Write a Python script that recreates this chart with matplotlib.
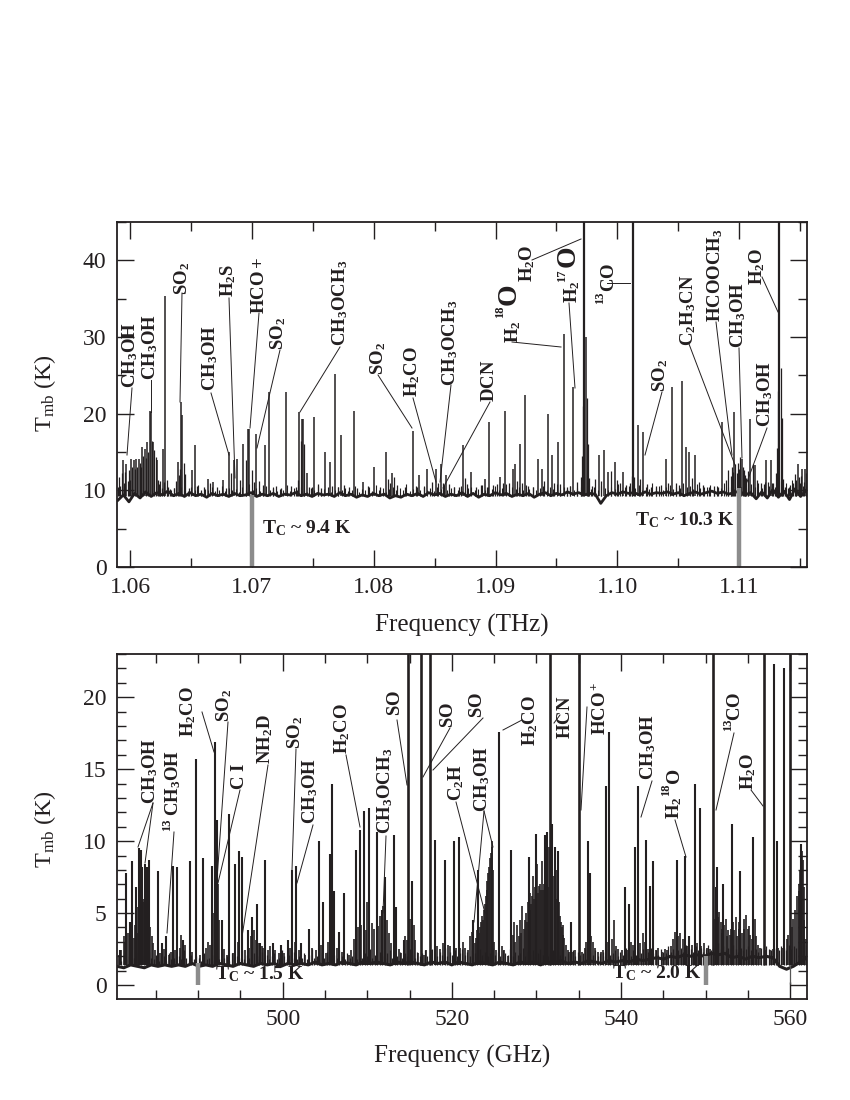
import numpy as np
import matplotlib
matplotlib.use('Agg')
import matplotlib.pyplot as plt
from matplotlib.lines import Line2D
from matplotlib.ticker import MultipleLocator, FormatStrFormatter

plt.rcParams['font.family'] = ['Liberation Serif', 'DejaVu Serif']
plt.rcParams['mathtext.fontset'] = 'custom'
plt.rcParams['mathtext.rm'] = 'Liberation Serif'
plt.rcParams['mathtext.it'] = 'Liberation Serif:italic'
plt.rcParams['mathtext.bf'] = 'Liberation Serif:bold'

INK = '#231f20'

# upper band, THz / K
top_base_T = [8.7, 9.4, 8.5, 9.6, 9.0, 9.8, 9.2, 9.7, 9.4, 9.9, 9.3, 9.6, 9.2, 9.7, 9.3, 9.5, 9.1, 9.6, 9.3, 9.5,
              9.2, 9.6, 9.3, 9.4, 9.7, 9.2, 9.5, 9.3, 9.6, 9.2, 9.5, 9.4, 9.7, 9.3, 9.5, 9.2, 9.6, 9.4, 9.5, 9.2,
              9.7, 9.3, 9.5, 9.1, 9.4, 9.2, 9.6, 9.3, 9.5, 9.0, 9.3, 9.1, 9.5, 9.3, 9.6, 9.2, 9.7, 9.4, 9.6, 9.2,
              9.5, 9.3, 9.7, 9.2, 9.6, 9.1, 9.5, 9.3, 9.7, 9.4, 9.6, 9.2, 9.5, 9.3, 9.6, 9.1, 9.5, 9.7, 9.3, 9.6,
              9.4, 9.8, 9.5, 9.7, 9.4, 9.6, 9.5, 8.3, 9.3, 9.7, 9.5, 9.8, 9.6, 9.7, 9.4, 9.8, 9.5, 9.7, 9.6, 9.8,
              9.5, 9.7, 9.3, 9.6, 9.8, 9.5, 9.7, 9.9, 9.6, 9.8, 9.5, 9.7, 9.9, 9.4, 9.7, 8.9, 9.8, 9.0, 10.1, 9.1,
              9.9, 8.8, 10.2, 9.2, 10.0]

# short noise spikes sitting on the continuum, evenly spaced channels
top_low_T = [10.2, 9.9, 10.6, 10.0, 10.3, 9.8, 10.5, 10.1, 9.9, 10.4, 10.0, 10.7, 9.8, 10.2, 10.0, 10.4, 9.9, 10.1,
             10.6, 9.9, 10.3, 10.0, 10.2, 9.8, 10.5, 10.1, 10.8, 10.0, 10.3, 9.9, 10.2, 10.6, 10.0, 10.4, 9.9, 10.2,
             10.1, 10.7, 9.9, 10.3, 10.0, 10.5, 10.1, 9.8, 10.3, 10.0, 10.6, 9.9, 10.2, 10.4, 9.8, 10.1, 10.5, 10.0,
             10.3, 9.9, 10.1, 10.6, 9.8, 10.2, 10.0, 10.4, 9.9, 10.7, 10.1, 10.3, 9.8, 10.2, 10.5, 10.0, 10.3, 10.1,
             10.8, 9.9, 10.2, 10.4, 10.0, 10.6, 10.1, 10.3, 9.9, 10.5, 10.2, 10.7, 10.0, 10.3, 10.4, 10.1, 10.6, 9.9,
             10.3, 10.5, 10.1, 10.2, 10.7, 10.0, 10.4, 10.2, 10.6, 10.0, 10.3, 10.8, 10.1, 10.4, 10.2, 10.5, 10.1, 10.7,
             10.2, 10.4, 10.0, 10.3, 10.6, 10.1, 10.5, 10.2, 10.8, 10.0, 10.4, 10.2, 10.6, 10.1, 10.3, 10.5, 10.0, 10.7,
             10.2, 10.4, 10.1, 10.6, 10.3, 10.0, 10.5, 10.2, 10.8, 10.1, 10.4, 10.6, 10.2, 10.3, 10.7, 10.1, 10.5, 10.2,
             10.9, 10.3, 10.6, 10.1, 10.4, 10.7, 10.2, 10.5, 10.3, 10.9, 10.4, 10.6, 10.2, 10.8, 10.3, 10.5, 10.4, 10.7,
             10.2, 10.6, 10.3, 10.9, 10.4, 10.5, 10.2, 10.7, 10.4, 10.6, 10.3, 10.8, 10.5, 10.9, 10.3, 11.1, 10.6, 10.9,
             10.4, 11.2, 10.7, 11.0, 10.5, 11.3, 10.8, 11.1, 10.6, 11.4]

top_f = [1.0594, 1.0597, 1.0601, 1.0603, 1.0605, 1.0607, 1.0610, 1.0612, 1.0614, 1.0616, 1.0617, 1.0619, 1.0622,
         1.0627, 1.0629, 1.0639, 1.0642, 1.0643, 1.0651, 1.0653, 1.0664, 1.0668, 1.0676, 1.0681, 1.0685, 1.0688,
         1.0693, 1.0697, 1.0698, 1.0703, 1.0711, 1.0714, 1.0728, 1.0739, 1.0741, 1.0742, 1.0745, 1.0751, 1.0760,
         1.0764, 1.0768, 1.0773, 1.0784, 1.0791, 1.0800, 1.0810, 1.0815, 1.0832, 1.0837, 1.0844, 1.0851, 1.0855,
         1.0859, 1.0873, 1.0880, 1.0891, 1.0895, 1.0904, 1.0908, 1.0914, 1.0916, 1.0920, 1.0924, 1.0935, 1.0938,
         1.0943, 1.0946, 1.0951, 1.0956, 1.0964, 1.0974, 1.0985, 1.0989, 1.0992, 1.0998, 1.1005, 1.1017, 1.1021,
         1.1040, 1.1045, 1.1053, 1.1056, 1.1059, 1.1064, 1.1086, 1.1096, 1.1102, 1.1109, 1.1113, 1.1122, 1.1126,
         1.1148, 1.1152, 1.1154]
top_T = [13.9, 13.5, 14.1, 13.9, 14.1, 14.1, 15.7, 15.4, 16.3, 20.4, 20.2, 16.3, 13.9, 15.4, 35.4, 13.7, 21.5,
         19.8, 12.6, 15.9, 11.5, 11.1, 11.3, 15.0, 13.9, 14.1, 16.1, 18.0, 18.0, 17.4, 15.9, 22.8, 22.8, 20.2,
         19.3, 19.3, 12.2, 19.6, 15.0, 13.7, 25.2, 17.2, 20.4, 11.1, 13.0, 15.0, 12.2, 17.8, 12.0, 12.8, 12.8,
         13.5, 12.0, 15.9, 12.4, 11.5, 18.9, 11.7, 20.4, 12.8, 13.5, 16.1, 22.4, 14.1, 12.8, 19.9, 14.6, 16.3,
         30.4, 23.5, 30.0, 14.6, 15.2, 12.4, 13.7, 12.4, 18.5, 17.6, 14.1, 23.5, 24.3, 15.7, 15.0, 14.6, 18.9,
         20.2, 14.1, 19.3, 13.3, 13.9, 13.9, 13.5, 12.8, 12.8]

top_grass_f = [1.0590, 1.0591, 1.0592, 1.0593, 1.0595, 1.0596, 1.0598, 1.0599, 1.0600, 1.0602, 1.0604, 1.0606,
               1.0608, 1.0609, 1.0611, 1.0613, 1.0615, 1.0618, 1.0620, 1.0621, 1.0623, 1.0624, 1.0625, 1.0626,
               1.0628, 1.0630, 1.0631, 1.0633, 1.0636, 1.0638, 1.0640, 1.0641, 1.0644, 1.0645, 1.0648, 1.0655,
               1.0658, 1.0661, 1.0666, 1.0671, 1.0679, 1.0683, 1.0690, 1.0695, 1.0700, 1.0702, 1.0706, 1.0709,
               1.0717, 1.0720, 1.0724, 1.0732, 1.0736, 1.0738, 1.0740, 1.0743, 1.0747, 1.0749, 1.0754, 1.0757,
               1.0766, 1.0771, 1.0776, 1.0780, 1.0786, 1.0795, 1.0805, 1.0812, 1.0813, 1.0817, 1.0819, 1.0826,
               1.0835, 1.0841, 1.0848, 1.0853, 1.0857, 1.0862, 1.0866, 1.0870, 1.0875, 1.0877, 1.0884, 1.0888,
               1.0893, 1.0898, 1.0901, 1.0906, 1.0911, 1.0918, 1.0922, 1.0927, 1.0931, 1.0940, 1.0948, 1.0953,
               1.0959, 1.0961, 1.0967, 1.0970, 1.0971, 1.0972, 1.0975, 1.0976, 1.0977, 1.0979, 1.0982, 1.0987,
               1.0995, 1.1000, 1.1002, 1.1007, 1.1010, 1.1012, 1.1014, 1.1019, 1.1024, 1.1028, 1.1032, 1.1036,
               1.1042, 1.1048, 1.1051, 1.1061, 1.1067, 1.1070, 1.1075, 1.1079, 1.1083, 1.1089, 1.1091, 1.1093,
               1.1094, 1.1095, 1.1097, 1.1098, 1.1099, 1.1100, 1.1101, 1.1103, 1.1104, 1.1105, 1.1106, 1.1107,
               1.1111, 1.1115, 1.1118, 1.1120, 1.1124, 1.1128, 1.1130, 1.1131, 1.1132, 1.1134, 1.1135, 1.1136,
               1.1138, 1.1140, 1.1142, 1.1144, 1.1146, 1.1147, 1.1149, 1.1150, 1.1151, 1.1153, 1.1155]
top_grass_T = [10.5, 11.8, 10.6, 12.2, 10.9, 12.4, 11.2, 12.7, 11.3, 13.0, 12.8, 13.1, 13.6, 13.0, 14.5, 14.2,
               15.0, 16.5, 15.2, 14.3, 11.4, 10.8, 11.2, 10.3, 11.1, 11.3, 10.4, 10.2, 10.3, 11.2, 12.0, 12.8,
               13.6, 12.1, 10.3, 10.6, 10.1, 10.4, 10.9, 10.5, 10.3, 12.2, 11.4, 14.0, 12.6, 11.1, 11.2, 10.7,
               10.3, 10.6, 10.3, 10.6, 10.4, 11.3, 16.4, 16.0, 10.5, 10.4, 10.8, 10.3, 10.6, 10.4, 10.7, 10.5,
               10.3, 10.6, 10.4, 11.5, 10.9, 11.8, 10.7, 10.5, 10.6, 10.4, 11.1, 10.9, 11.0, 10.8, 10.4, 10.5,
               11.6, 10.8, 10.5, 10.7, 10.5, 10.7, 10.8, 10.9, 11.0, 11.2, 10.9, 10.6, 10.5, 11.2, 10.9, 10.8,
               10.5, 10.6, 11.1, 11.8, 14.5, 21.0, 22.0, 16.0, 11.6, 10.6, 11.5, 11.2, 12.5, 11.3, 11.0, 10.7,
               10.9, 11.9, 11.7, 11.5, 10.8, 10.5, 10.6, 10.7, 10.9, 11.0, 10.7, 11.6, 11.1, 10.7, 10.5, 10.6,
               10.5, 11.3, 12.6, 11.9, 13.0, 12.4, 13.4, 12.3, 13.6, 12.8, 14.4, 13.1, 12.6, 12.0, 11.6, 12.5,
               13.4, 11.3, 10.9, 10.8, 11.1, 11.0, 12.2, 15.5, 23.0, 26.0, 19.5, 11.5, 10.4, 10.3,
               10.7, 11.0, 12.1, 11.3, 11.8, 11.0, 11.9, 11.1, 12.3]

top_strong_f = [1.0973, 1.1013, 1.1133]
top_strong_T = [60.0, 60.0, 60.0]

# lower band, GHz / K
bot_base_T = [1.3, 1.2, 1.4, 1.3, 1.2, 1.4, 1.3, 1.4, 1.3, 1.4, 1.3, 1.5, 1.3, 1.4, 1.3, 1.5, 1.4, 1.3, 1.5, 1.4,
              1.3, 1.5, 1.4, 1.5, 1.3, 1.5, 1.4, 1.5, 1.4, 1.6, 1.4, 1.5, 1.4, 1.6, 1.5, 1.4, 1.6, 1.5, 1.6, 1.5,
              1.4, 1.6, 1.5, 1.6, 1.5, 1.4, 1.6, 1.5, 1.6, 1.4, 1.6, 1.5, 1.4, 1.6, 1.5, 1.4, 1.6, 1.5, 1.4, 1.6,
              1.5, 1.6, 1.4, 1.6, 1.5, 1.7, 1.5, 1.6, 1.5, 1.7, 1.6, 1.5, 1.7, 1.6, 1.7, 1.6, 1.8, 1.7, 1.8, 1.9,
              1.8, 2.0, 1.9, 2.1, 2.0, 2.1, 2.0, 2.2, 2.1, 2.2, 1.9, 2.0, 1.8, 2.0, 1.9, 2.0, 1.9, 1.3, 1.1, 1.3,
              1.6, 1.9]

bot_low_T = [1.9, 1.7, 2.1, 1.8, 2.0, 1.7, 1.9, 2.2, 1.8, 1.7, 2.0, 1.8, 2.3, 1.9, 1.8, 2.1, 1.7, 1.9, 2.0, 1.7,
             2.2, 1.8, 1.9, 1.7, 2.0, 1.8, 2.4, 1.9, 1.7, 2.1, 1.8, 2.0, 1.9, 1.7, 2.2, 1.8, 1.9, 2.1, 1.7, 2.0,
             1.8, 2.3, 1.9, 2.0, 1.7, 2.2, 1.8, 2.0, 1.9, 2.4, 1.8, 2.1, 1.9, 1.7, 2.2, 2.0, 1.8, 2.3, 1.9, 2.1,
             1.8, 2.0, 2.2, 1.8, 1.9, 2.4, 2.0, 1.8, 2.1, 1.9, 2.3, 1.8, 2.0, 1.9, 2.2, 1.8, 2.1, 2.5, 1.9, 2.0,
             1.8, 2.2, 1.9, 2.3, 2.0, 1.8, 2.1, 1.9, 2.4, 2.0, 1.8, 2.2, 1.9, 2.0, 2.3, 1.8, 2.1, 1.9, 2.2, 2.0,
             2.5, 1.9, 2.1, 1.8, 2.3, 2.0, 1.9, 2.2, 2.4, 1.9, 2.1, 2.0, 2.3, 1.9, 2.2, 2.0, 2.5, 2.1, 1.9, 2.3,
             2.0, 2.2, 2.4, 2.0, 2.1, 2.5, 2.2, 2.0, 2.3, 2.1, 2.6, 2.0, 2.3, 2.1, 2.4, 2.0, 2.2, 2.5, 2.1, 2.3,
             2.0, 2.4, 2.2, 2.0, 2.5, 2.1, 2.3, 2.0, 2.2, 2.6, 2.1, 2.3, 2.0, 2.4, 2.2, 2.1, 2.5, 2.0, 2.3, 2.1,
             2.2, 2.6, 2.0, 2.3, 2.1, 2.4, 2.0, 2.2, 2.5, 2.1, 2.3, 2.0, 2.2, 2.4, 2.0, 2.3, 2.1, 2.5, 2.0, 2.2,
             2.1, 2.4, 2.0, 2.3, 2.1, 2.2, 2.5, 2.0, 2.3, 2.1, 2.4, 2.0, 2.2, 2.3, 2.0, 2.5, 2.1, 2.2, 2.4, 2.0,
             2.3, 2.1, 2.6, 2.2, 2.0, 2.4, 2.1, 2.3, 2.2, 2.5, 2.1, 2.3, 2.6, 2.2, 2.4, 2.1, 2.5, 2.3, 2.2, 2.7,
             2.3, 2.5, 2.2, 2.4, 2.6, 2.3, 2.8, 2.4, 2.5, 2.3, 2.7, 2.4, 2.6, 2.3, 2.5, 2.8, 2.4, 2.6, 2.5, 2.9,
             2.5, 2.7, 2.4, 2.6, 2.5, 2.8, 2.5, 2.3, 2.6, 2.4, 2.5, 2.7, 2.4, 2.6, 2.5, 2.3, 2.6, 2.4, 2.7, 2.5,
             2.4, 2.6, 2.5, 2.4, 2.7, 2.6, 2.4, 2.8, 2.5, 2.7, 2.6, 3.0, 2.7, 3.2, 2.8]

bot_f = [480.8, 481.5, 481.9, 482.2, 482.6, 483.0, 483.2, 483.4, 483.7, 483.9, 484.2, 485.3, 485.7, 486.2, 487.0,
         487.5, 488.2, 489.0, 489.8, 490.6, 491.6, 492.0, 492.2, 492.8, 493.7, 494.4, 494.8, 495.2, 495.9, 496.4,
         497.0, 497.3, 497.9, 498.9, 499.8, 500.6, 501.1, 501.6, 502.2, 503.1, 504.3, 504.8, 505.6, 505.8, 506.1,
         506.7, 507.3, 508.7, 509.1, 509.6, 510.2, 511.1, 511.7, 512.1, 513.1, 513.4, 514.3, 515.3, 518.0, 519.2,
         520.2, 520.8, 522.5, 523.1, 525.6, 527.0, 529.1, 529.9, 531.0, 531.3, 531.8, 532.2, 532.6, 534.1, 536.1,
         536.3, 538.2, 538.6, 540.5, 540.9, 541.7, 542.0, 543.0, 543.4, 543.8, 546.6, 547.6, 548.1, 548.8, 549.3,
         551.2, 551.4, 552.1, 553.1, 554.1, 555.6, 558.1, 558.4, 559.3, 561.3]
bot_T = [2.4, 7.8, 4.4, 8.6, 6.8, 9.5, 9.4, 8.2, 8.4, 8.2, 8.7, 7.9, 2.9, 3.4, 8.3, 8.2, 3.1, 8.6, 15.7, 8.8, 8.3,
         16.9, 11.5, 4.5, 11.9, 8.4, 9.3, 8.9, 3.8, 4.7, 5.6, 2.9, 8.7, 2.9, 2.8, 3.1, 8.0, 8.3, 2.9, 3.9, 10.0,
         5.8, 9.1, 14.0, 6.5, 3.7, 6.4, 9.4, 10.8, 12.1, 12.3, 10.6, 5.2, 7.5, 10.4, 5.4, 3.1, 7.2, 10.1, 8.7,
         10.0, 10.3, 4.5, 8.0, 17.6, 9.4, 8.9, 10.5, 10.4, 10.6, 11.2, 9.6, 9.3, 4.4, 10.0, 7.8, 13.8, 17.6, 6.8,
         5.6, 9.6, 13.8, 10.1, 6.9, 8.6, 8.7, 9.0, 3.4, 14.0, 12.3, 6.8, 8.2, 7.0, 11.2, 7.9, 10.3, 22.3, 10.0,
         22.0, 9.8]

bot_grass_f = [480.6, 480.9, 481.2, 481.4, 481.7, 482.0, 482.1, 482.4, 482.5, 482.8, 482.9, 483.1, 483.3, 483.5,
               483.6, 483.8, 484.0, 484.1, 484.3, 484.5, 484.7, 484.9, 485.1, 485.5, 486.0, 486.5, 486.8, 487.2,
               487.8, 488.0, 488.5, 489.3, 490.2, 490.9, 491.2, 491.4, 491.8, 492.4, 492.5, 493.0, 493.4, 494.1,
               494.7, 495.5, 496.0, 496.2, 496.6, 496.8, 497.1, 497.5, 497.7, 498.2, 498.5, 499.1, 499.5, 500.1,
               500.9, 501.4, 501.9, 502.6, 503.5, 503.9, 504.5, 505.1, 505.4, 506.4, 507.0, 507.8, 508.1, 508.4,
               508.9, 509.3, 509.8, 510.0, 510.5, 510.8, 511.3, 511.5, 511.9, 512.3, 512.6, 512.8, 513.7, 514.0,
               514.5, 514.7, 515.0, 515.5, 515.7, 516.0, 516.7, 517.0, 517.7, 518.3, 518.6, 518.9, 519.5, 519.8,
               520.5, 521.0, 521.3, 521.6, 521.9, 522.2, 522.4, 522.7, 522.9, 523.0, 523.2, 523.3, 523.5, 523.6,
               523.7, 523.8, 523.9, 524.0, 524.1, 524.2, 524.3, 524.4, 524.5, 524.6, 524.7, 524.8, 524.9, 525.0,
               525.2, 525.9, 526.2, 526.6, 527.2, 527.4, 527.5, 527.7, 527.9, 528.0, 528.2, 528.3, 528.5, 528.6,
               528.8, 528.9, 529.0, 529.2, 529.3, 529.4, 529.5, 529.6, 529.7, 529.8, 530.0, 530.1, 530.2, 530.3,
               530.4, 530.5, 530.7, 530.8, 530.9, 531.1, 531.2, 531.4, 531.5, 531.7, 531.9, 532.0, 532.3, 532.4,
               532.5, 532.7, 532.8, 532.9, 533.0, 533.1, 533.2, 533.3, 533.5, 533.7, 533.9, 534.3, 534.6, 535.4,
               535.7, 535.9, 536.5, 536.7, 536.9, 537.3, 537.6, 537.9, 538.5, 538.9, 539.2, 539.4, 539.7, 540.1,
               540.7, 541.2, 541.4, 542.3, 542.6, 542.8, 543.2, 544.1, 544.4, 544.8, 545.2, 545.5, 545.9, 546.2,
               546.4, 546.8, 547.0, 547.3, 547.9, 548.4, 549.0, 549.5, 549.8, 550.2, 550.5, 551.1, 551.3, 551.5,
               551.6, 551.8, 551.9, 552.0, 552.2, 552.4, 552.5, 552.7, 552.9, 553.0, 553.3, 553.4, 553.6, 553.7,
               553.9, 554.0, 554.3, 554.5, 554.6, 554.8, 555.0, 555.1, 555.3, 555.5, 555.8, 556.0, 556.2, 556.5,
               557.2, 557.6, 558.0, 558.6, 559.0, 559.6, 559.8, 560.2, 560.4, 560.6, 560.8, 561.0, 561.1, 561.2,
               561.4, 561.5, 561.6, 561.7, 561.9]
bot_grass_T = [2.1, 2.4, 3.4, 3.0, 3.6, 2.8, 3.8, 3.3, 4.2, 3.6, 5.4, 4.8, 4.2, 5.8, 6.0, 5.2, 4.6, 5.4, 4.0, 3.4,
               2.9, 2.4, 2.0, 2.2, 2.5, 2.1, 2.3, 2.4, 2.6, 3.5, 2.8, 2.3, 2.1, 2.6, 3.0, 2.8, 5.0, 7.0, 4.5, 2.5,
               2.1, 2.2, 3.0, 2.4, 2.6, 3.4, 3.8, 3.1, 2.9, 2.7, 2.6, 2.4, 2.7, 2.4, 2.2, 2.2, 2.6, 3.0, 2.4, 2.1,
               2.6, 2.4, 2.8, 2.2, 3.0, 2.6, 2.3, 2.1, 2.4, 3.2, 4.0, 4.2, 3.8, 5.8, 4.3, 3.9, 4.1, 4.8, 5.5, 4.5,
               3.6, 2.9, 2.5, 2.2, 3.4, 3.1, 4.6, 4.2, 3.1, 2.2, 2.1, 2.4, 2.4, 2.7, 2.5, 2.9, 2.8, 2.7, 2.6, 2.6,
               3.0, 2.6, 2.4, 3.4, 3.7, 2.9, 3.3, 3.8, 3.6, 4.0, 4.4, 4.8, 4.5, 5.2, 5.6, 6.2, 6.6, 7.2, 7.8, 8.2,
               8.8, 9.2, 10.0, 9.6, 8.0, 3.0, 2.4, 2.7, 2.4, 2.0, 3.5, 4.4, 3.0, 4.2, 3.4, 4.5, 3.6, 5.5, 3.9, 4.5,
               5.0, 4.4, 5.8, 5.2, 6.4, 5.6, 6.2, 7.6, 6.0, 6.8, 6.2, 8.4, 6.4, 6.9, 7.0, 6.6, 8.6, 6.6, 7.0, 6.4,
               9.2, 6.8, 9.6, 7.0, 6.4, 7.6, 6.0, 8.0, 5.6, 5.8, 4.8, 4.4, 4.0, 4.2, 3.5, 3.3, 2.8, 2.4, 2.3, 2.3,
               2.4, 2.3, 2.6, 3.0, 3.4, 3.0, 2.6, 2.3, 2.3, 2.4, 3.0, 3.2, 4.5, 2.7, 2.5, 2.4, 2.4, 3.0, 2.8, 2.9,
               3.6, 3.0, 2.5, 2.4, 2.6, 2.3, 2.5, 2.4, 2.7, 3.2, 3.7, 3.4, 3.6, 3.2, 2.7, 2.8, 2.9, 2.7, 2.9, 2.6,
               2.5, 4.6, 5.0, 4.7, 5.1, 4.4, 3.9, 3.6, 4.2, 4.6, 3.4, 3.8, 3.5, 3.9, 4.4, 3.8, 4.7, 3.4, 3.9, 4.4,
               3.6, 4.6, 3.9, 4.9, 3.9, 4.1, 3.5, 3.2, 4.6, 3.4, 2.8, 2.6, 2.4, 2.4, 2.5, 2.6, 2.6, 3.2, 3.5, 4.0,
               4.6, 5.2, 6.2, 7.0, 6.5, 8.0, 9.3, 8.7, 6.8, 4.5, 3.2]

bot_strong_f = [514.8, 516.4, 517.4, 531.6, 535.0, 550.9, 556.9, 560.0]
bot_strong_T = [30.0, 30.0, 30.0, 30.0, 30.0, 30.0, 30.0, 30.0]

# (text, x px, y px), then leaders (x0, y0, x1, y1) in figure pixels
top_labels = [
    (r'$\mathbf{CH_3OH}$', 130, 355), (r'$\mathbf{CH_3OH}$', 150, 347), (r'$\mathbf{SO_2}$', 182, 278),
    (r'$\mathbf{H_2S}$', 228, 280), (r'$\mathbf{HCO+}$', 259, 285), (r'$\mathbf{SO_2}$', 278, 333),
    (r'$\mathbf{CH_3OH}$', 210, 358), (r'$\mathbf{CH_3OCH_3}$', 340, 303), (r'$\mathbf{SO_2}$', 378, 358),
    (r'$\mathbf{H_2CO}$', 412, 372), (r'$\mathbf{CH_3OCH_3}$', 450, 343), (r'$\mathbf{DCN}$', 490, 381),
    (r'$\mathbf{H_2O}$', 527, 263), (r'$\mathbf{CO}$', 609, 277), (r'$\mathbf{C_2H_3CN}$', 688, 310),
    (r'$\mathbf{HCOOCH_3}$', 715, 275), (r'$\mathbf{CH_3OH}$', 738, 315), (r'$\mathbf{CH_3OH}$', 765, 394),
    (r'$\mathbf{SO_2}$', 660, 375), (r'$\mathbf{H_2O}$', 757, 266), (r'$\mathbf{H_2}$', 513, 332),
    (r'$\mathbf{H_2}$', 572, 292),
]
top_leaders = [
    (132, 388, 127, 455), (151, 380, 151, 412), (182, 293, 180, 402), (229, 298, 235, 478), (259, 313, 250, 428),
    (280, 350, 257, 448), (211, 393, 229, 455), (340, 347, 300, 412), (378, 375, 412, 428), (413, 398, 436, 482),
    (451, 385, 440, 482), (490, 402, 443, 488), (512, 342, 561, 347), (569, 303, 575, 388), (532, 260, 581, 239),
    (607, 283, 630, 283), (689, 344, 735, 465), (716, 322, 732, 455), (739, 348, 742, 458), (767, 428, 747, 482),
    (662, 392, 645, 455), (762, 277, 778, 312),
]
bot_labels = [
    (r'$\mathbf{CH_3OH}$', 150, 771), (r'$\mathbf{CH_3OH}$', 173, 783), (r'$\mathbf{H_2CO}$', 188, 712),
    (r'$\mathbf{SO_2}$', 224, 705), (r'$\mathbf{C\ I}$', 240, 777), (r'$\mathbf{NH_2D}$', 265, 739),
    (r'$\mathbf{SO_2}$', 295, 732), (r'$\mathbf{CH_3OH}$', 310, 791), (r'$\mathbf{H_2CO}$', 342, 729),
    (r'$\mathbf{CH_3OCH_3}$', 385, 791), (r'$\mathbf{SO}$', 395, 703), (r'$\mathbf{SO}$', 448, 715),
    (r'$\mathbf{SO}$', 478, 705), (r'$\mathbf{C_2H}$', 456, 783), (r'$\mathbf{CH_3OH}$', 482, 779),
    (r'$\mathbf{H_2CO}$', 530, 721), (r'$\mathbf{HCN}$', 566, 717), (r'$\mathbf{HCO^+}$', 600, 708),
    (r'$\mathbf{CH_3OH}$', 648, 747), (r'$\mathbf{H_2}$', 674, 808), (r'$\mathbf{CO}$', 735, 706),
    (r'$\mathbf{H_2O}$', 748, 771),
]
bot_leaders = [
    (153, 803, 138, 847), (153, 803, 145, 863), (174, 832, 167, 933), (202, 712, 214, 752), (228, 722, 217, 880),
    (240, 790, 218, 883), (268, 765, 242, 937), (296, 749, 292, 870), (313, 825, 297, 883), (346, 755, 360, 827),
    (386, 836, 383, 913), (397, 720, 407, 785), (450, 728, 423, 777), (483, 718, 433, 770), (456, 802, 485, 913),
    (484, 811, 474, 922), (484, 811, 493, 847), (522, 720, 503, 730), (560, 715, 554, 723), (587, 707, 581, 810),
    (652, 781, 641, 817), (675, 820, 686, 857), (734, 733, 716, 810), (751, 790, 763, 806),
]
# isotope numbers and the large O of the water lines
iso_labels = [('18', 500, 312, 9), ('17', 562, 276, 9), ('13', 600, 298, 9), ('13', 167, 825, 9),
              ('18', 666, 790, 9), ('13', 728, 725, 9), ('O', 509, 294, 20), ('O', 568, 256, 20), ('O', 674, 775, 14)]


def px(x, y):
    return x / 850, 1 - y / 1100


def add_labels(fig, labels, leaders):
    for s, x, y in labels:
        fig.text(*px(x, y), s, rotation=90, ha='center', va='center', fontsize=13.5, color=INK)
    for x0, y0, x1, y1 in leaders:
        a, b = px(x0, y0), px(x1, y1)
        fig.add_artist(Line2D([a[0], b[0]], [a[1], b[1]], color=INK, lw=0.7))


def style(ax):
    for s in ax.spines.values():
        s.set_linewidth(1.3)
        s.set_color(INK)
    ax.tick_params(which='major', direction='in', top=True, right=True, length=12.5, width=1.0,
                   labelsize=17, color=INK, labelcolor=INK, pad=7.5)
    ax.tick_params(which='minor', direction='in', top=True, right=True, length=6.5, width=1.0, color=INK)


fig = plt.figure(figsize=(8.5, 11), dpi=100)

ax1 = fig.add_axes([117 / 850, 1 - 567 / 1100, 690 / 850, 345 / 1100])
top_x = np.linspace(1.0590, 1.1155, len(top_base_T))
ax1.plot(top_x, top_base_T, color=INK, lw=2.0)
ax1.vlines(np.linspace(1.0625, 1.1155, len(top_low_T)), 9.3, top_low_T, color=INK, lw=0.8)
ax1.vlines(top_grass_f, 9.3, top_grass_T, color=INK, lw=0.9)
ax1.vlines(top_f, 9.3, top_T, color=INK, lw=1.1)
ax1.vlines(top_strong_f, 9.3, top_strong_T, color=INK, lw=1.6)
ax1.vlines([1.07, 1.11], 0, [9.4, 10.3], color='#8c8c8c', lw=3.2)
ax1.set_xlim(1.05893, 1.11557)
ax1.set_ylim(0, 45)
ax1.xaxis.set_major_locator(MultipleLocator(0.01))
ax1.xaxis.set_minor_locator(MultipleLocator(0.005))
ax1.xaxis.set_major_formatter(FormatStrFormatter('%.2f'))
ax1.yaxis.set_major_locator(MultipleLocator(10))
ax1.yaxis.set_minor_locator(MultipleLocator(5))
style(ax1)

ax2 = fig.add_axes([117 / 850, 1 - 999 / 1100, 690 / 850, 345 / 1100])
bot_x = np.linspace(480.4, 562.0, len(bot_base_T))
ax2.plot(bot_x, bot_base_T, color=INK, lw=2.2)
ax2.vlines(np.linspace(480.6, 561.9, len(bot_low_T)), 1.4, bot_low_T, color=INK, lw=0.9)
ax2.vlines(bot_grass_f, 1.4, bot_grass_T, color=INK, lw=1.2)
ax2.vlines(bot_f, 1.4, bot_T, color=INK, lw=1.5)
ax2.vlines(bot_strong_f, 1.4, bot_strong_T, color=INK, lw=1.9)
ax2.vlines([560.0], 0.1, 1.4, color='#555555', lw=0.9)
ax2.vlines([490, 550], 0, [1.5, 2.0], color='#8c8c8c', lw=3.2)
ax2.set_xlim(480.4, 562.0)
ax2.set_ylim(-0.97, 23)
ax2.xaxis.set_major_locator(MultipleLocator(20))
ax2.xaxis.set_minor_locator(MultipleLocator(5))
ax2.yaxis.set_major_locator(MultipleLocator(5))
ax2.yaxis.set_minor_locator(MultipleLocator(1))
style(ax2)

fig.text(*px(462, 625), 'Frequency (THz)', ha='center', va='center', fontsize=18, color=INK)
fig.text(*px(462, 1056), 'Frequency (GHz)', ha='center', va='center', fontsize=18, color=INK)
fig.text(*px(45, 393), r'T$_{\mathrm{mb}}$ (K)', rotation=90, ha='center', va='center', fontsize=17.5, color=INK)
fig.text(*px(45, 829), r'T$_{\mathrm{mb}}$ (K)', rotation=90, ha='center', va='center', fontsize=17.5, color=INK)

add_labels(fig, top_labels, top_leaders)
add_labels(fig, bot_labels, bot_leaders)
for s, x, y, size in iso_labels:
    fig.text(*px(x, y), s, rotation=90, ha='center', va='center', fontsize=size, fontweight='bold', color=INK)

for s, x, y in [(r'T$_{\mathbf{C}}$ ~ 9.4 K', 262, 528), (r'T$_{\mathbf{C}}$ ~ 10.3 K', 635, 520),
                (r'T$_{\mathbf{C}}$ ~ 1.5 K', 215, 974), (r'T$_{\mathbf{C}}$ ~ 2.0 K', 612, 973)]:
    fig.text(*px(x, y), s, ha='left', va='center', fontsize=14, fontweight='bold', color=INK)

fig.savefig('out.png', dpi=100)
